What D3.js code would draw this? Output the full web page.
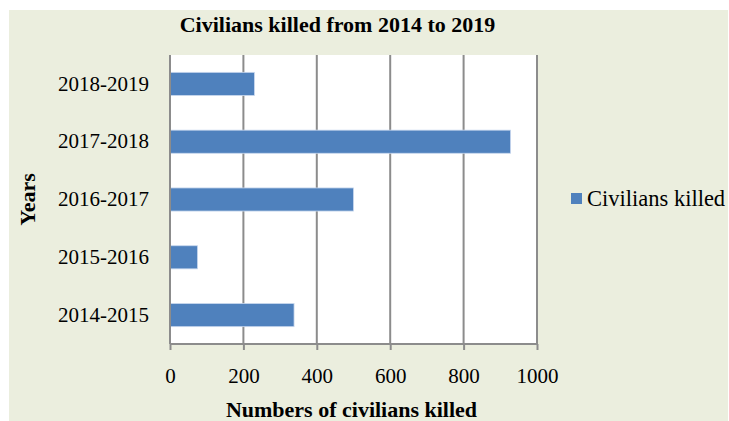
<!DOCTYPE html>
<html><head><meta charset="utf-8">
<script src="https://cdn.jsdelivr.net/npm/d3@7/dist/d3.min.js"></script>
<style>body{margin:0;background:#fff}svg{display:block}</style>
</head><body>
<svg id="chart" width="729" height="421"></svg>
<script>
const categories = ["2014-2015","2015-2016","2016-2017","2017-2018","2018-2019"];
const values = [338, 75, 500, 928, 230];
const xTicks = [0,200,400,600,800,1000];
const seriesName = "Civilians killed";
const titleText = "Civilians killed from 2014 to 2019";
const xTitle = "Numbers of civilians killed";
const yTitle = "Years";

const svg = d3.select("#chart");
const font = "'Liberation Serif','Times New Roman',serif";
svg.append("rect").attr("x",9).attr("y",10).attr("width",719).attr("height",411).attr("fill","#EBEEDE");

const L=170,R=537,T=55,B=344;
svg.append("rect").attr("x",L).attr("y",T).attr("width",R-L).attr("height",B-T).attr("fill","#fff");

const x = d3.scaleLinear().domain([0,1000]).range([L,R]);
const y = d3.scaleBand().domain(categories.slice().reverse()).range([T,B]).paddingInner(0.6).paddingOuter(0.3);

// gridlines
svg.append("g").selectAll("line").data(xTicks).join("line")
  .attr("x1",d=>x(d)).attr("x2",d=>x(d)).attr("y1",T).attr("y2",B)
  .attr("stroke","#8C8C8C").attr("stroke-width",2);

// bars
svg.append("g").selectAll("rect").data(categories).join("rect")
  .attr("x",x(0)).attr("y",d=>y(d))
  .attr("width",(d,i)=>x(values[i])-x(0)).attr("height",y.bandwidth())
  .attr("fill","#4F81BD").attr("stroke","#C9D8EE").attr("stroke-width",0.8);

// x axis
const xa = svg.append("g").attr("transform",`translate(0,${B})`)
  .call(d3.axisBottom(x).tickValues(xTicks).tickSize(6).tickPadding(18).tickFormat(d3.format("d")));
xa.select(".domain").attr("stroke","#8C8C8C").attr("stroke-width",2).attr("d",`M${L},0H${R}`);
xa.selectAll(".tick line").attr("stroke","#8C8C8C").attr("stroke-width",2);
xa.selectAll("text").attr("font-family",font).attr("font-size",21).attr("fill","#000");

// y axis
const ya = svg.append("g").attr("transform",`translate(${L},0)`)
  .call(d3.axisLeft(y).tickSize(0).tickPadding(21));
ya.select(".domain").attr("stroke","#8C8C8C").attr("stroke-width",2).attr("d",`M0,${T}V${B}`);
ya.selectAll("text").attr("font-family",font).attr("font-size",21).attr("fill","#000");

// titles
svg.append("text").attr("x",337.5).attr("y",32).attr("text-anchor","middle")
  .attr("font-family",font).attr("font-weight","bold").attr("font-size",22).text(titleText);
svg.append("text").attr("x",351.5).attr("y",417).attr("text-anchor","middle")
  .attr("font-family",font).attr("font-weight","bold").attr("font-size",22).text(xTitle);
svg.append("text").attr("transform","translate(35,199.5) rotate(-90)").attr("text-anchor","middle")
  .attr("font-family",font).attr("font-weight","bold").attr("font-size",22).text(yTitle);

// legend
svg.append("rect").attr("x",571).attr("y",193).attr("width",11).attr("height",11).attr("fill","#4F81BD");
svg.append("text").attr("x",587).attr("y",206).attr("font-family",font).attr("font-size",22.5).text(seriesName);
</script>
</body></html>
